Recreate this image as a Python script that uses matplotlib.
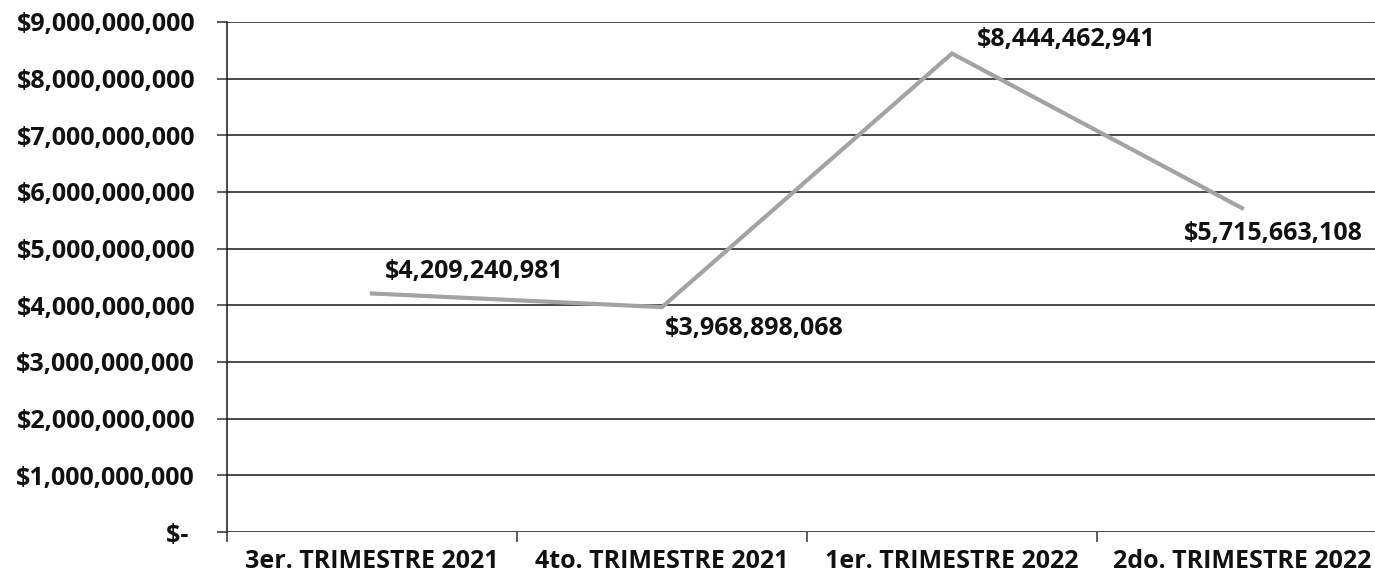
import matplotlib
matplotlib.use("Agg")
import matplotlib.pyplot as plt
from matplotlib.ticker import FuncFormatter, MultipleLocator, FixedLocator

categories = ["3er. TRIMESTRE 2021", "4to. TRIMESTRE 2021",
              "1er. TRIMESTRE 2022", "2do. TRIMESTRE 2022"]
values = [4209240981, 3968898068, 8444462941, 5715663108]
label_offsets = [(13, 22), (3, -21), (25, 14), (-58, -25)]

plt.rcParams['font.family'] = ['Open Sans', 'DejaVu Sans']
plt.rcParams['font.weight'] = 'bold'

W, H = 1375, 578
fig = plt.figure(figsize=(W / 100, H / 100), dpi=100)
ax = fig.add_axes([227 / W, (H - 532) / H, 1160 / W, 510 / H])

x = list(range(len(categories)))
ax.plot(x, values, color="#a3a3a3", lw=3.0, solid_joinstyle="miter", zorder=3)

for xi, v, off in zip(x, values, label_offsets):
    ax.annotate("${:,.0f}".format(v), (xi, v), xytext=off, textcoords="offset pixels",
                ha="left", va="center", fontsize=18, fontweight="bold", color="#111111")

ax.set_xlim(-0.5, 3.5)
ax.set_ylim(0, 9e9)
ax.yaxis.set_major_locator(MultipleLocator(1e9))


def fmt(v, pos):
    if v == 0:
        return "$- "
    return "${:,.0f}".format(v)


ax.yaxis.set_major_formatter(FuncFormatter(fmt))
ax.set_xticks(x)
ax.set_xticklabels(categories)
ax.xaxis.set_minor_locator(FixedLocator([-0.5, 0.5, 1.5, 2.5, 3.5]))
ax.tick_params(axis='x', which='major', length=0, pad=12, labelsize=18)
ax.tick_params(axis='x', which='minor', length=7, width=1.1, color="#333333")
ax.tick_params(axis='y', length=7, width=1.1, color="#333333", labelsize=18, pad=16)
for lab in ax.get_xticklabels() + ax.get_yticklabels():
    lab.set_fontweight("bold")
    lab.set_color("#111111")

ax.grid(axis='y', color="#1a1a1a", lw=1.1, zorder=1)
for s in ["top", "right", "bottom"]:
    ax.spines[s].set_visible(False)
ax.spines["left"].set_color("#1a1a1a")
ax.spines["left"].set_linewidth(1.1)

fig.savefig("out.png", dpi=100)
